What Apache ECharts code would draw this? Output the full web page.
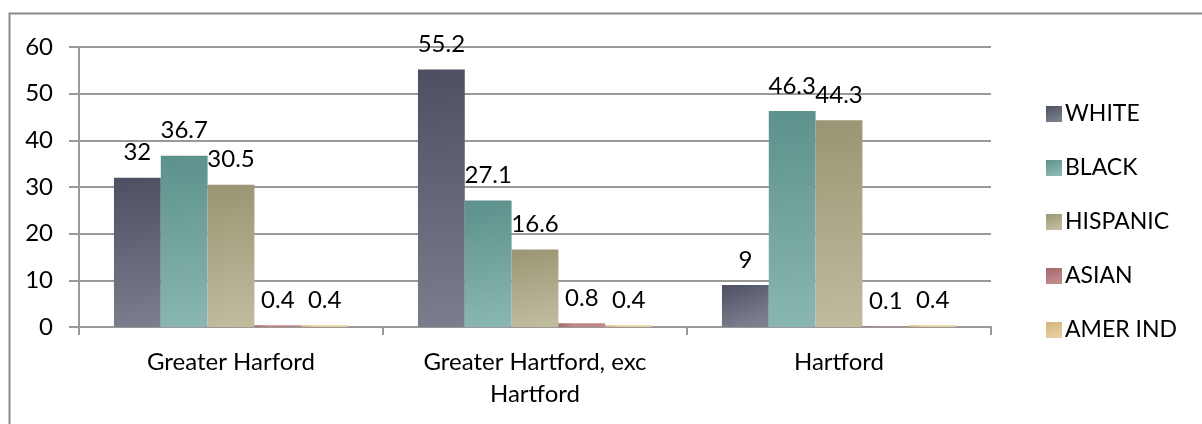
<!DOCTYPE html>
<html>
<head>
<meta charset="utf-8">
<script src="https://cdn.jsdelivr.net/npm/echarts@6/dist/echarts.min.js"></script>
<style>
  html, body { margin: 0; padding: 0; background: #fff; }
  #chart { width: 1202px; height: 424px; }
</style>
</head>
<body>
<div id="chart"></div>
<script>
const categories = ['Greater Harford', 'Greater Hartford, exc\nHartford', 'Hartford'];
const seriesNames = ['WHITE', 'BLACK', 'HISPANIC', 'ASIAN', 'AMER IND'];
const white = [32, 55.2, 9];
const black = [36.7, 27.1, 46.3];
const hispanic = [30.5, 16.6, 44.3];
const asian = [0.4, 0.8, 0.1];
const amerInd = [0.4, 0.4, 0.4];
const yTicks = [0, 10, 20, 30, 40, 50, 60];

const FONT = 'Lato, "DejaVu Sans", sans-serif';

// top / bottom colours of each bar gradient
const palette = [
  ['#4c5062', '#7a7d8c'],
  ['#5d918b', '#89b6b0'],
  ['#999574', '#c0bb9d'],
  ['#a4686a', '#c08a8c'],
  ['#d2b47e', '#e6cf9c']
];

const values = [white, black, hispanic, asian, amerInd];

const grad = (c) => new echarts.graphic.LinearGradient(0, 0, 0.35, 1, [
  { offset: 0, color: c[0] },
  { offset: 1, color: c[1] }
]);

const seriesList = seriesNames.map((name, i) => ({
  name,
  type: 'bar',
  data: values[i],
  barGap: '0%',
  barCategoryGap: '23%',
  itemStyle: { color: grad(palette[i]) },
  label: {
    show: true,
    position: 'top',
    distance: 13,
    color: '#000',
    fontFamily: FONT,
    fontSize: 24
  }
}));

const chart = echarts.init(document.getElementById('chart'));

chart.setOption({
  animation: false,
  backgroundColor: '#fff',
  grid: { left: 79, right: 211, top: 47, bottom: 97, containLabel: false },
  legend: {
    orient: 'vertical',
    left: 1041,
    top: 97,
    itemWidth: 16,
    itemHeight: 16,
    itemGap: 30,
    icon: 'rect',
    textStyle: { color: '#000', fontFamily: FONT, fontSize: 23, lineHeight: 24, padding: [0, 0, 0, -2] },
    data: seriesNames
  },
  xAxis: {
    type: 'category',
    data: categories,
    axisLine: { lineStyle: { color: '#999', width: 2 } },
    axisTick: { show: true, length: 8, lineStyle: { color: '#999', width: 2 } },
    axisLabel: {
      color: '#000',
      fontFamily: FONT,
      fontSize: 24,
      lineHeight: 32,
      margin: 19
    }
  },
  yAxis: {
    type: 'value',
    min: yTicks[0],
    max: yTicks[yTicks.length - 1],
    interval: 10,
    axisLine: { show: true, lineStyle: { color: '#999', width: 2 } },
    axisTick: { show: true, length: 10, lineStyle: { color: '#999', width: 2 } },
    splitLine: { lineStyle: { color: '#999', width: 2 } },
    axisLabel: {
      color: '#000',
      fontFamily: FONT,
      fontSize: 24,
      margin: 26
    }
  },
  graphic: [
    {
      type: 'rect',
      left: 7,
      top: 11,
      shape: { width: 1300, height: 500 },
      style: { fill: 'none', stroke: '#8a8a8a', lineWidth: 2 },
      silent: true
    }
  ],
  series: seriesList
});
</script>
</body>
</html>
